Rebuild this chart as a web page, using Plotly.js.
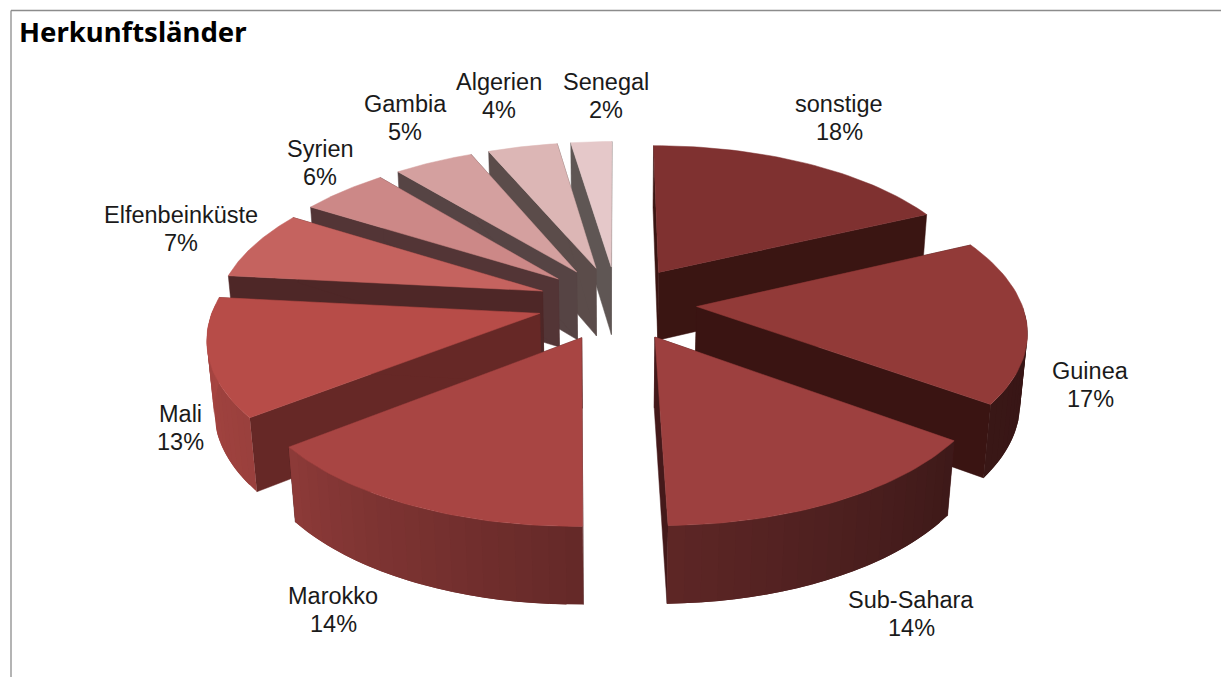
<!DOCTYPE html>
<html><head><meta charset="utf-8">
<script src="https://cdn.plot.ly/plotly-3.0.1.min.js"></script>
<style>html,body{margin:0;padding:0;background:#fff;overflow:hidden}</style></head>
<body><div id="chart" style="width:1221px;height:677px"></div>
<script>
const categories = ["sonstige","Guinea","Sub-Sahara","Marokko","Mali","Elfenbeinküste","Syrien","Gambia","Algerien","Senegal"];
const percent = [18,17,14,14,13,7,6,5,4,2];
// share of the circle each slice visibly occupies in the picture (the projection skews the printed percentages)
const visibleShare = [18,17,14.72,14.72,12.22,7.22,5.11,4.61,4.03,2.37];
const topColors = ["#7f3130","#923a38","#9d403f","#a84543","#b74c48","#c5635f","#cc8887","#d4a09f","#dcb6b5","#e5c8c9"];
const cutColors = ["#3a1512","#3a1412","#44191a","#4a1f1e","#662826","#4e2727","#533536","#564444","#5b4c4a","#5f5654"];
const labelX = [839,1090,911,333,180,181,320,405,499,606];
const labelY = [118,385,614,610,428,229,163,118,96,96];
const drawOrder = [9,8,7,0,6,5,1,4,2,3];

const F=325, CX=617, CY=303, SIN=0.468, COS=Math.sqrt(1-SIN*SIN), D=6.4, EXPLODE=0.245, H=0.245;
function project(X,Y,Z){
  const w = Y*COS + Z*SIN, s = D/(D-w);
  return [CX + F*X*s, CY + F*(Y*SIN - Z*COS)*s];
}
function rim(a,ox,oy,z){ const r=a*Math.PI/180; return project(ox+Math.sin(r), oy-Math.cos(r), z); }
function shade(a){
  const pts=[[0,.35],[126,.39],[180,.6],[232,.84],[276,.92],[360,.92]];
  for(let i=1;i<pts.length;i++) if(a<=pts[i][0]){
    const t=(a-pts[i-1][0])/(pts[i][0]-pts[i-1][0]);
    return pts[i-1][1]+t*(pts[i][1]-pts[i-1][1]);
  }
  return .9;
}
function scale(hex,f){
  const n=parseInt(hex.slice(1),16);
  return `rgb(${Math.round((n>>16&255)*f)},${Math.round((n>>8&255)*f)},${Math.round((n&255)*f)})`;
}
function poly(pts,color,w){
  return {type:'scatter',mode:'lines',x:pts.map(p=>p[0]).concat(pts[0][0]),y:pts.map(p=>p[1]).concat(pts[0][1]),
    fill:'toself',fillcolor:color,line:{color:color,width:w},hoverinfo:'skip',showlegend:false};
}
const total = visibleShare.reduce((a,b)=>a+b,0);
let acc=0;
const slices = visibleShare.map(v=>{const a0=acc/total*360; acc+=v; return {a0,a1:acc/total*360};});
const traces=[];
drawOrder.forEach(i=>{
  const {a0,a1}=slices[i], mid=(a0+a1)/2*Math.PI/180;
  const ox=EXPLODE*Math.sin(mid), oy=-EXPLODE*Math.cos(mid);
  [a0,a1].forEach(a=>{
    traces.push(poly([project(ox,oy,0),rim(a,ox,oy,0),rim(a,ox,oy,-H),project(ox,oy,-H)],cutColors[i],0.5));
  });
  const n=Math.max(2,Math.round((a1-a0)/2.5)), step=(a1-a0)/n;
  for(let k=0;k<n;k++){
    const a=a0+k*step, m=a+step/2;
    if(Math.cos(m*Math.PI/180)>0) continue;
    // every strip runs on under the next one, so that no seam shows
    const end=Math.min(a1,a+step*2), pts=[];
    for(let t=a;t<=end+1e-6;t+=(end-a)/4) pts.push(rim(t,ox,oy,0));
    for(let t=end;t>=a-1e-6;t-=(end-a)/4) pts.push(rim(t,ox,oy,-H));
    traces.push(poly(pts,scale(topColors[i],shade(m)),0));
  }
  const top=[project(ox,oy,0)];
  for(let a=a0;a<=a1+1e-6;a+=(a1-a0)/40) top.push(rim(a,ox,oy,0));
  traces.push(poly(top,topColors[i],0.5));
});
const annotations=[];
categories.forEach((c,i)=>{
  [[c,-13.6],[percent[i]+'%',13.6]].forEach(([t,dy])=>annotations.push({x:labelX[i],y:labelY[i]+dy,xref:'x',yref:'y',text:t,showarrow:false,
    xanchor:'center',yanchor:'middle',align:'center',borderpad:0,font:{family:'"Liberation Sans", sans-serif',size:23.5,color:'#1a1a1a'}}));
});
annotations.push({x:17,y:31,xref:'x',yref:'y',text:'<b>Herkunftsländer</b>',showarrow:false,xanchor:'left',yanchor:'middle',font:{family:'"Noto Sans", sans-serif',size:27.5,color:'#000'}});
const hidden={visible:false,fixedrange:true};
Plotly.newPlot('chart',traces,{
  width:1221,height:677,margin:{l:0,r:0,t:0,b:0},paper_bgcolor:'#fff',plot_bgcolor:'#fff',showlegend:false,
  xaxis:Object.assign({range:[0,1221]},hidden),
  yaxis:Object.assign({range:[677,0]},hidden),
  annotations,
  shapes:[
    {type:'line',xref:'x',yref:'y',x0:11,y0:10.5,x1:1221,y1:10.5,line:{color:'#8c8c8c',width:1.3}},
    {type:'line',xref:'x',yref:'y',x0:11,y0:10.5,x1:11,y1:677,line:{color:'#8c8c8c',width:1.3}}
  ]
},{displayModeBar:false,staticPlot:true});
</script></body></html>
